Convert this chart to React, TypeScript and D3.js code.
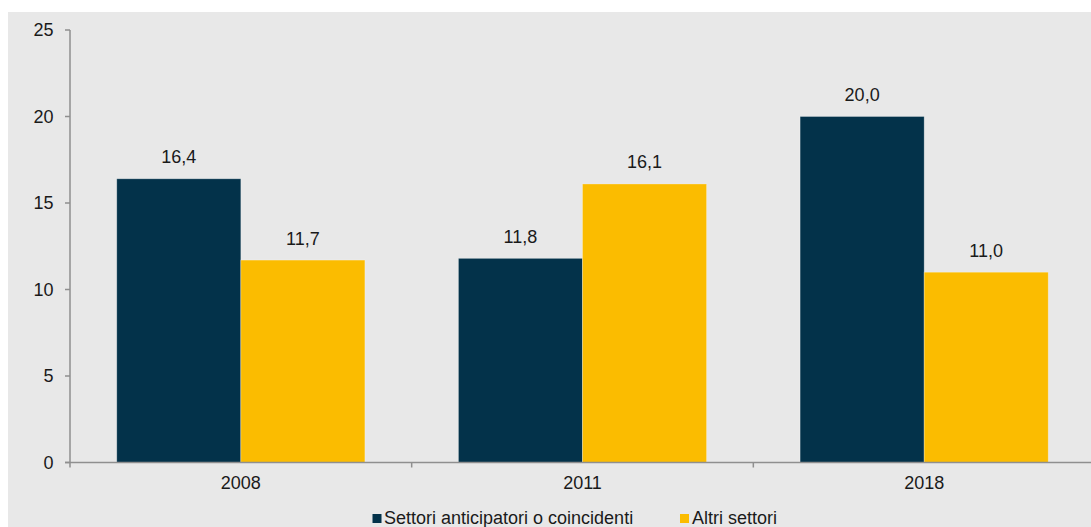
import React from "react";
import * as d3 from "d3";

const years = ["2008", "2011", "2018"];
const seriesNames = ["Settori anticipatori o coincidenti", "Altri settori"];
const anticipatori = [16.4, 11.8, 20.0];
const altri = [11.7, 16.1, 11.0];
const yTicks = [0, 5, 10, 15, 20, 25];
const colors = ["#03324a", "#fbbc00"];

const W = 1091;
const H = 527;
const FONT = "'Liberation Sans', Arial, sans-serif";
const FS = 18;

export default function App() {
  const plotLeft = 70;
  const plotRight = 1095;
  const yTop = 30;
  const yBottom = 462.5;

  const x0 = d3.scaleBand<string>().domain(years).range([plotLeft, plotRight]).paddingInner(0).paddingOuter(0);
  const x1 = d3
    .scaleBand<number>()
    .domain([0, 1])
    .range([0, x0.bandwidth()])
    .paddingOuter(0.377)
    .paddingInner(0);
  const y = d3.scaleLinear().domain([0, 25]).range([yBottom, yTop]);

  const series = [anticipatori, altri];
  const fmt = (v: number) => v.toFixed(1).replace(".", ",");

  return (
    <svg
      width={W}
      height={H}
      style={{ position: "absolute", left: 0, top: 0, display: "block" }}
      fontFamily={FONT}
    >
      <rect x={0} y={0} width={W} height={H} fill="#ffffff" />
      <rect x={8} y={12} width={W - 8} height={H - 12} fill="#e8e8e8" />

      {/* bars */}
      {years.map((yr, i) =>
        series.map((vals, s) => {
          const bx = (x0(yr) as number) + (x1(s) as number);
          const bw = x1.bandwidth();
          const by = y(vals[i]);
          return (
            <g key={yr + s}>
              <rect
                x={bx}
                y={by}
                width={bw}
                height={yBottom - by}
                fill={colors[s]}
                stroke="#ffffff"
                strokeOpacity={0.35}
                strokeWidth={0.8}
              />
              <text
                x={bx + bw / 2}
                y={by - 15.5}
                textAnchor="middle"
                fontSize={FS}
                fill="#1a1a1a"
              >
                {fmt(vals[i])}
              </text>
            </g>
          );
        })
      )}

      {/* y axis */}
      <line x1={plotLeft} x2={plotLeft} y1={yTop} y2={yBottom} stroke="#8f8f8f" strokeWidth={1.5} />
      {yTicks.map((t) => (
        <g key={t}>
          <line x1={plotLeft - 5} x2={plotLeft} y1={y(t)} y2={y(t)} stroke="#8f8f8f" strokeWidth={1.5} />
          <text x={53.5} y={y(t) + 6.3} textAnchor="end" fontSize={FS} fill="#1a1a1a">
            {t}
          </text>
        </g>
      ))}

      {/* x axis */}
      <line x1={plotLeft - 5} x2={plotRight} y1={yBottom} y2={yBottom} stroke="#8f8f8f" strokeWidth={1.5} />
      {[...years.map((yr) => x0(yr) as number), plotRight].map((tx, i) => (
        <line key={i} x1={tx} x2={tx} y1={yBottom} y2={yBottom + 5} stroke="#8f8f8f" strokeWidth={1.5} />
      ))}
      {years.map((yr) => (
        <text
          key={yr}
          x={(x0(yr) as number) + x0.bandwidth() / 2}
          y={488.5}
          textAnchor="middle"
          fontSize={FS}
          fill="#1a1a1a"
        >
          {yr}
        </text>
      ))}

      {/* legend */}
      <g>
        <rect x={372.5} y={514} width={9} height={9} fill={colors[0]} />
        <text x={384} y={523.5} fontSize={FS} fill="#1a1a1a">
          {seriesNames[0]}
        </text>
        <rect x={680} y={514} width={9} height={9} fill={colors[1]} />
        <text x={692} y={523.5} fontSize={FS} fill="#1a1a1a">
          {seriesNames[1]}
        </text>
      </g>
    </svg>
  );
}
